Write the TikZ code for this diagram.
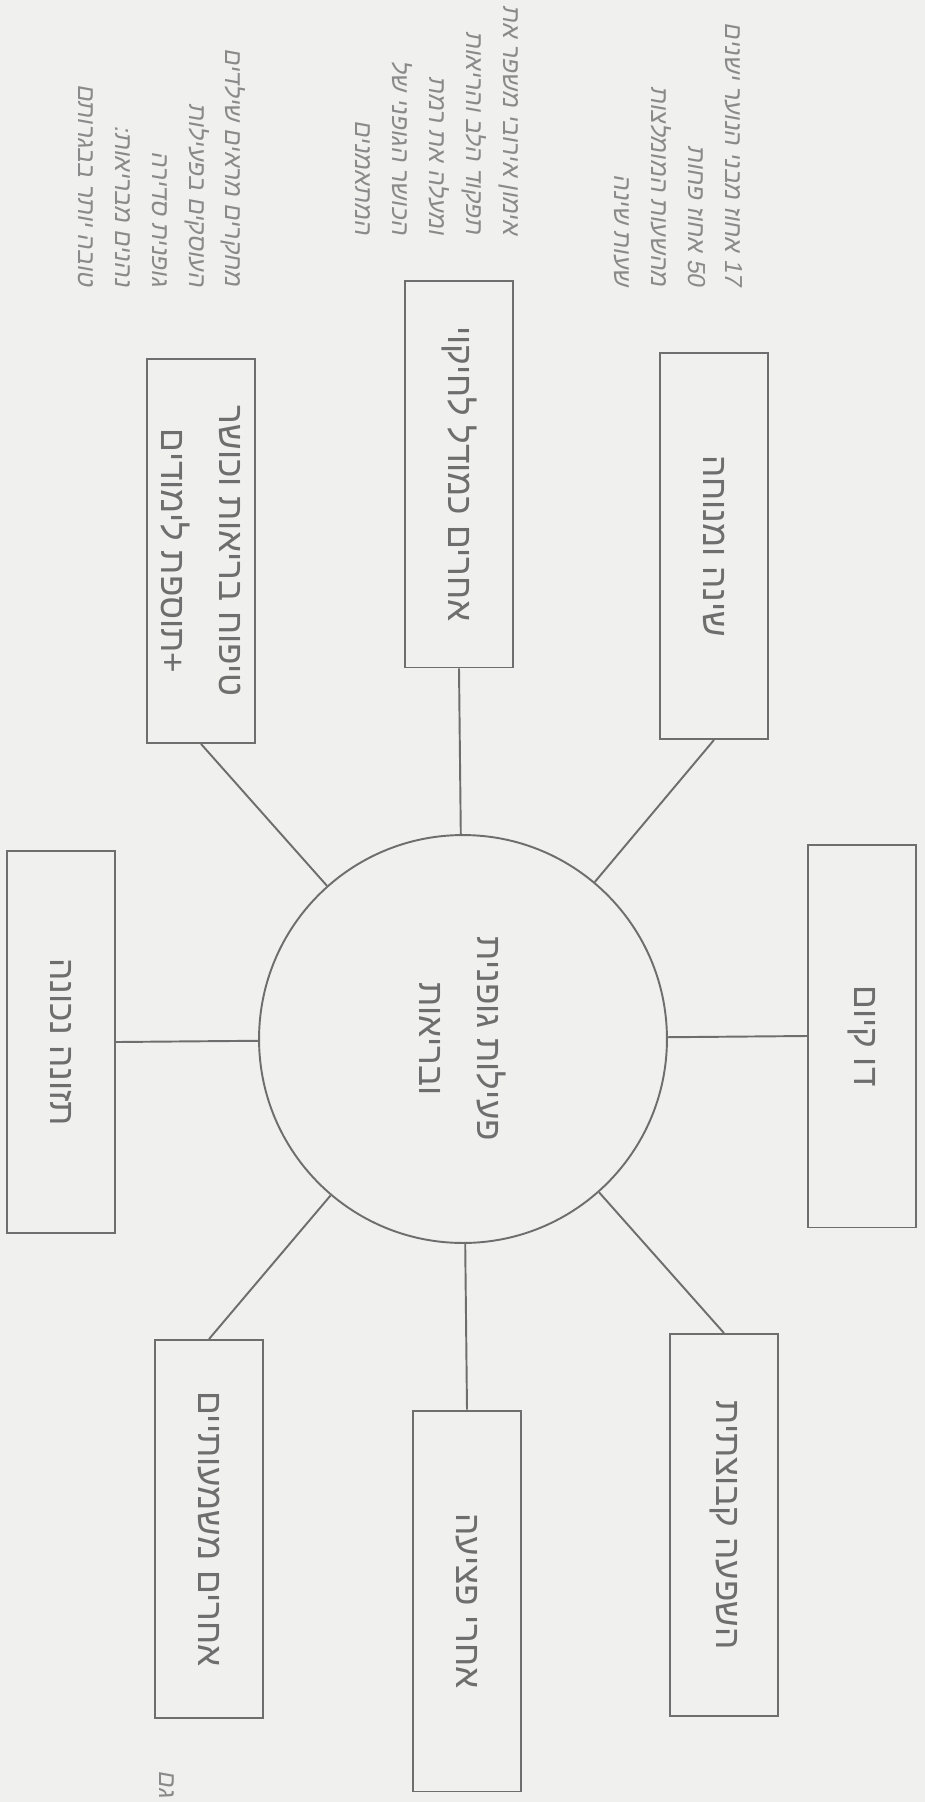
\documentclass[tikz,border=0pt]{standalone}
\usepackage{fontspec}
\newfontfamily\hebfont[Script=Hebrew]{Liberation Sans}
\newfontfamily\handfont[Script=Hebrew,FakeSlant=0.18]{Liberation Sans}
\TeXXeTstate=1
\newcommand{\heb}[1]{\beginR #1\endR}% one right-to-left line
\newcommand{\lnum}[1]{\beginL #1\endL}% digits inside it
\definecolor{paper}{HTML}{F0F0EE}
\definecolor{ink}{HTML}{6E6E6E}
\definecolor{pencil}{HTML}{8A8A8A}

\begin{document}
\begin{tikzpicture}[x=0.02cm,y=-0.02cm,
    link/.style={draw=ink,line width=1.1pt},
    label box/.style={draw=ink,line width=1.1pt,rotate=-90,minimum height=2.17cm,inner sep=0pt,
      text=ink,align=center,font=\hebfont\fontsize{20}{33}\selectfont},
    core ring/.style={circle,draw=ink,line width=1.1pt,minimum size=8.16cm,inner sep=0pt,rotate=-90,
      text=ink,align=center,font=\hebfont\fontsize{20}{33}\selectfont},
    pencil note/.style={rotate=-90,anchor=east,inner sep=0pt,text=pencil,align=right,
      font=\handfont\fontsize{14}{21}\selectfont}]
  \useasboundingbox (0,0) rectangle (925,1802);
  \fill[paper] (0,0) rectangle (925,1802);

  \node[core ring] (core) at (463,1039) {\heb{פעילות גופנית}\\\heb{ובריאות}};

  % the eight boxes round the circle
  \node[label box,minimum width=7.68cm] (tl) at (201,551) {\heb{טיפוח בריאות וכושר}\\\heb{+תוספת לימודים}};
  \node[label box,minimum width=7.74cm] (tm) at (459,474) {\heb{אחרים כמודל לחיקוי}};
  \node[label box,minimum width=7.72cm] (tr) at (714,546) {\heb{שינה ומנוחה}};
  \node[label box,minimum width=7.64cm] (lf) at (61,1042) {\heb{תזונה נכונה}};
  \node[label box,minimum width=7.66cm] (rt) at (862,1036) {\heb{דו קיום}};
  \node[label box,minimum width=7.56cm] (bl) at (209,1529) {\heb{אחרים משמעותיים}};
  \node[label box,minimum width=7.62cm] (bm) at (467,1601) {\heb{אחרי פציעה}};
  \node[label box,minimum width=7.64cm] (br) at (724,1525) {\heb{השפעה קבוצתית}};

  \foreach \b/\s in {tl/east,tm/east,tr/east,lf/north,rt/south,bl/west,bm/west,br/west}
    \draw[link] (core) -- (\b.\s);

  % pencilled notes
  \node[pencil note] (notea) at (162,287) {\heb{מחקרים מראים שילדים}\\\heb{העוסקים בפעילות}\\
    \heb{גופנית סדירה}\\\heb{נהנים מבריאות:}\\\heb{טובה יותר בבגרותם}};
  \node[pencil note] (noteb) at (437,235) {\heb{אימון אירובי משפר את}\\\heb{תפקוד הלב והריאות}\\
    \heb{ומעלה את רמת}\\\heb{הכושר הגופני של}\\\heb{המתאמנים}};
  \node[pencil note] (notec) at (678,287) {\heb{\lnum{17} אחוז מבני הנוער ישנים}\\\heb{\lnum{50} אחוז פחות}\\
    \heb{מהשעות המומלצות}\\\heb{שעות שינה}};
  \node[pencil note,anchor=center] (noted) at (167,1784) {\heb{גם}};
\end{tikzpicture}
\end{document}
